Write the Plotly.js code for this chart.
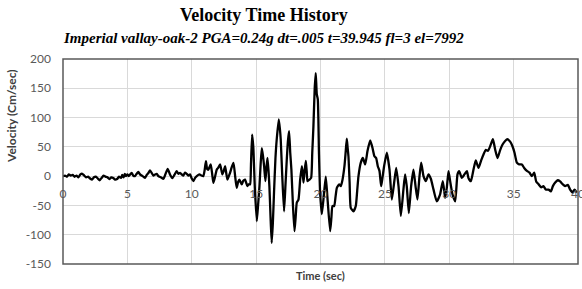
<!DOCTYPE html>
<html>
<head>
<meta charset="utf-8">
<script src="https://cdn.plot.ly/plotly-3.0.1.min.js"></script>
<style>html,body{margin:0;padding:0;background:#fff;}#chart{width:582px;height:289px;}</style>
</head>
<body>
<div id="chart"></div>
<script>
const chartTitle = "Velocity Time History";
const chartSubtitle = "Imperial vallay-oak-2 PGA=0.24g dt=.005 t=39.945 fl=3 el=7992";
const xLabel = "Time (sec)";
const yLabel = "Velocity (Cm/sec)";
const xTicks = [0, 5, 10, 15, 20, 25, 30, 35, 40];
const yTicks = [-150, -100, -50, 0, 50, 100, 150, 200];

const timeSec = [
  0,0.15,0.3,0.45,0.6,0.75,0.9,1.05,1.2,1.35,1.5,1.65,1.8,1.95,2.1,2.25,2.4,2.55,2.7,2.85,3.0,3.15,3.3,3.45,3.6,3.75,3.9,4.05,4.2,4.35,4.5,4.6,4.7,4.8,4.9,5.0,
  5.1,5.33,5.45,5.59,5.72,5.85,5.98,6.11,6.25,6.37,6.5,6.62,6.76,6.9,7.02,7.15,7.28,7.41,7.6,7.8,7.95,8.13,8.22,8.31,8.49,8.65,8.83,8.96,9.09,9.22,9.35,9.48,9.61,9.75,9.87,10.0,10.13,
  10.26,10.39,10.6,10.75,10.9,11.0,11.1,11.2,11.29,11.47,11.58,11.68,11.8,11.94,12.05,12.2,12.38,12.5,12.59,12.68,12.77,12.88,12.98,13.1,13.24,13.37,13.49,13.6,13.7,13.88,14.0,14.14,14.32,14.42,14.53,14.6,14.69,
  14.78,14.9,15.05,15.15,15.26,15.35,15.44,15.53,15.62,15.72,15.8,15.88,15.96,16.03,16.12,16.21,16.3,16.39,16.5,16.6,16.76,16.85,16.91,17.03,17.17,17.28,17.38,17.47,17.56,17.65,17.74,17.86,17.98,18.07,18.16,18.29,18.42,18.55,18.62,18.68,18.77,18.86,18.93,18.99,19.14,19.27,19.36,19.45,19.55,19.63,19.71,19.79,19.88,19.97,20.1,
  20.25,20.41,20.55,20.75,20.85,20.93,21.06,21.17,21.27,21.45,21.58,21.71,21.86,21.95,22.04,22.1,22.17,22.26,22.35,22.56,22.74,22.85,22.95,23.13,23.29,23.47,23.65,23.86,23.95,24.04,24.19,24.32,24.45,24.58,24.71,24.8,
  24.94,25.15,25.36,25.54,25.72,25.88,26.06,26.24,26.44,26.57,26.7,26.86,27.04,27.22,27.38,27.53,27.69,27.82,28.0,28.18,28.39,28.57,28.78,29.03,29.29,29.5,29.68,29.81,29.94,
  30.07,30.25,30.46,30.64,30.77,30.98,31.18,31.37,31.49,31.68,31.88,32.06,32.27,32.48,32.66,32.84,33.0,33.18,33.39,33.57,33.75,33.96,34.14,34.34,34.52,34.73,34.91,
  35.07,35.25,35.43,35.64,35.82,36.03,36.23,36.42,36.6,36.75,36.94,37.14,37.32,37.5,37.71,37.89,38.05,38.23,38.43,38.61,38.82,39.0,39.21,39.39,39.57,39.73,39.91
];
const velocity = [
  0,1,-1,3,1,2,-1,1,-2,3,4,1,-2,-1,-4,-6,-2,-1,-4,-7,-3,1,-1,-2,-5,-2,-3,-6,-5,-1,-3,2,-2,4,0,3,
  0,5.7,1,0,4,7.4,3,1,-1,-2.8,2,5,9.7,5,1,2.8,4,0,-2,-4.5,3,12.5,8,2.8,-3.4,2,8.5,4,5.7,3,1,6,4,1,3,-4,-8.5,
  -3,0,3,1,0,10,25.6,12,11,20,5,-11.4,-2,11,14,20,3,10,17,5,-6,0,6,15,22.8,0,-20,-10,-6,-14,-8,-6,-17,-14,-14,20,71,
  50,-20,-77,-50,-17,20,48,35,17,-8.5,15,31,10,-17,-70,-114,-80,-28,30,63,97,80,63,0,-60,-15,28,60,77,40,11,-50,-94,-70,-45,-40,-6,17,5,-11,10,26,8,-8.5,-6,-3,40,85,150,176,140,131,40,-28,-65,
  -35,-1,-40,-94,-70,-51,-51,-35,-20,-14,-17,-6,17,40,64,50,34,-10,-54,-60,-51,-25,0,23,31,20,43,61,55,48,34,31,17,9,-17,-5,
  17,40,11,-40,-11,14,-17,-68,-23,3,-17,-63,-17,11,-17,-40,0,23,0,-8.5,3,-4.5,-23,-43,-31,-8.5,-37,-20,8.5,
  -8.5,-31,-43,3,8.5,-3,3,8.5,-3,-8.5,11,27,14,27,37,45,43,51,63,45,31,45,54,60,63,59,51,
  40,23,20,20,14,9,6,0,6,-9,-14,-19,-17,-23,-23,-26,-17,-11,-7,-9,-14,-17,-15,-23,-28,-23,-28
];

const sansFamily = "Lato, Open Sans, sans-serif";
const serifFamily = "Liberation Serif, DejaVu Serif, serif";
const tickFont = {family: sansFamily, size: 12, color: "#595959"};
const zeroFrac = (0 - (-150)) / (200 - (-150));

const data = [{
  x: timeSec, y: velocity, type: "scatter", mode: "lines",
  line: {color: "#000000", width: 2.3, shape: "spline", smoothing: 0.5},
  hoverinfo: "skip"
}];

const layout = {
  width: 582, height: 289,
  margin: {l: 63, r: 4, t: 59, b: 25, pad: 0},
  paper_bgcolor: "#ffffff", plot_bgcolor: "#ffffff",
  showlegend: false,
  xaxis: {
    range: [0, 40], tickvals: xTicks, ticktext: xTicks.map(String),
    showgrid: true, gridcolor: "#d9d9d9", gridwidth: 1,
    zeroline: false, showline: false, ticks: "",
    anchor: "free", position: zeroFrac,
    tickfont: tickFont, ticklabelstandoff: 9, ticklabeloverflow: "allow"
  },
  yaxis: {
    range: [-150, 200], tickvals: yTicks, ticktext: yTicks.map(String),
    showgrid: true, gridcolor: "#d9d9d9", gridwidth: 1,
    zeroline: false, showline: false, ticks: "",
    tickfont: tickFont, ticklabelstandoff: 11
  },
  shapes: [{
    type: "rect", xref: "paper", yref: "paper", x0: 0, x1: 1, y0: 0, y1: 1,
    line: {color: "#595959", width: 1.5}, fillcolor: "rgba(0,0,0,0)", layer: "above"
  }],
  annotations: [
    {text: "<b>" + chartTitle + "</b>", xref: "paper", yref: "paper", x: 0.39, y: 1.215,
     xanchor: "center", yanchor: "middle", showarrow: false,
     font: {family: serifFamily, size: 18, color: "#000"}},
    {text: "<b><i>" + chartSubtitle + "</i></b>", xref: "paper", yref: "paper", x: 0.39, y: 1.1,
     xanchor: "center", yanchor: "middle", showarrow: false,
     font: {family: serifFamily, size: 15, color: "#000"}},
    {text: "<b>" + xLabel + "</b>", xref: "paper", yref: "paper", x: 0.5, y: -0.0585,
     xanchor: "center", yanchor: "middle", showarrow: false,
     font: {family: sansFamily, size: 11, color: "#404040"}},
    {text: "<b>" + yLabel + "</b>", xref: "paper", yref: "paper", x: -0.099, y: 0.722,
     xanchor: "center", yanchor: "middle", showarrow: false, textangle: -90,
     font: {family: sansFamily, size: 12, color: "#404040"}}
  ]
};

Plotly.newPlot("chart", data, layout, {displayModeBar: false, staticPlot: true});
</script>
</body>
</html>
